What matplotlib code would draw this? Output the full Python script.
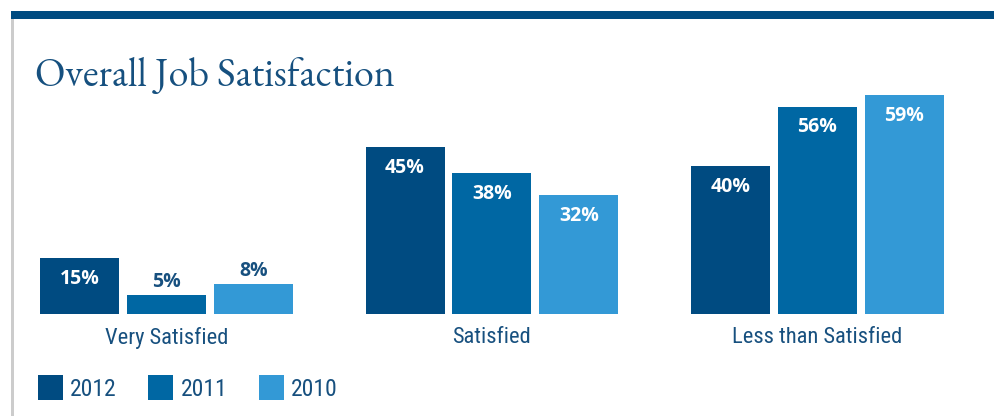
import matplotlib
matplotlib.use("Agg")
import matplotlib.pyplot as plt
import numpy as np
from matplotlib.patches import Rectangle

categories = ["Very Satisfied", "Satisfied", "Less than Satisfied"]
years = ["2012", "2011", "2010"]
values_2012 = [15, 45, 40]
values_2011 = [5, 38, 56]
values_2010 = [8, 32, 59]

colors = ["#004b81", "#0067a3", "#3399d6"]
text_blue = "#17507f"
sans = ["Roboto Condensed", "Open Sans", "DejaVu Sans"]
sans_bold = ["Open Sans", "DejaVu Sans"]
serif = ["EB Garamond", "Liberation Serif", "DejaVu Serif"]

W, H = 995, 416
fig = plt.figure(figsize=(W / 100, H / 100), dpi=100)

# page decoration: top rule and left border
fig.add_artist(Rectangle((11 / W, 1 - 19 / H), 1, 8 / H, transform=fig.transFigure,
                         facecolor="#004b81", edgecolor="none"))
fig.add_artist(Rectangle((11 / W, 0), 3 / W, 1 - 19 / H, transform=fig.transFigure,
                         facecolor="#cccccc", edgecolor="none"))

fig.text(35 / W, 1 - 86 / H, "Overall Job Satisfaction", family=serif, fontsize=28.8,
         color="#16507f", va="baseline", ha="left")

# axes mapped so group i is centered at pixel 166.5 + 325.5*i, baseline at y=313.7px
base_px, px_per = 313.7, 3.7
top_px = 80
ax = fig.add_axes([0, 1 - base_px / H, 1, (base_px - top_px) / H])
ax.set_xlim(-166.5 / 325.5, (W - 166.5) / 325.5)
ax.set_ylim(0, (base_px - top_px) / px_per)
ax.axis("off")

x = np.arange(len(categories))
step = 87 / 325.5
width = 79 / 325.5
series = [values_2012, values_2011, values_2010]
bars = []
for k, (vals, year, c) in enumerate(zip(series, years, colors)):
    b = ax.bar(x + (k - 1) * step, vals, width, color=c, label=year)
    bars.append(b)
    for rect, v in zip(b, vals):
        cx = rect.get_x() + rect.get_width() / 2
        if v >= 10:
            ax.annotate(f"{v}%", (cx, v), xytext=(0, -21 * 0.72), textcoords="offset points",
                        ha="center", va="center", color="white", fontsize=14,
                        fontweight="bold", family=sans_bold)
        else:
            ax.annotate(f"{v}%", (cx, v), xytext=(0, 13 * 0.72), textcoords="offset points",
                        ha="center", va="center", color=text_blue, fontsize=14,
                        fontweight="bold", family=sans_bold)

for i, cat in enumerate(categories):
    ax.annotate(cat, (i, 0), xytext=(0, -24 * 0.72), textcoords="offset points",
                ha="center", va="center", color=text_blue, fontsize=16.2, family=sans,
                annotation_clip=False)

leg = fig.legend(handles=bars, labels=years, loc="center left",
                 bbox_to_anchor=(17 / W, 1 - 388 / H), ncol=3, frameon=False,
                 prop={"family": sans, "size": 17}, handlelength=1.06, handleheight=1.2,
                 handletextpad=0.3, columnspacing=1.33, labelcolor=text_blue)

fig.savefig("out.png", dpi=100)
